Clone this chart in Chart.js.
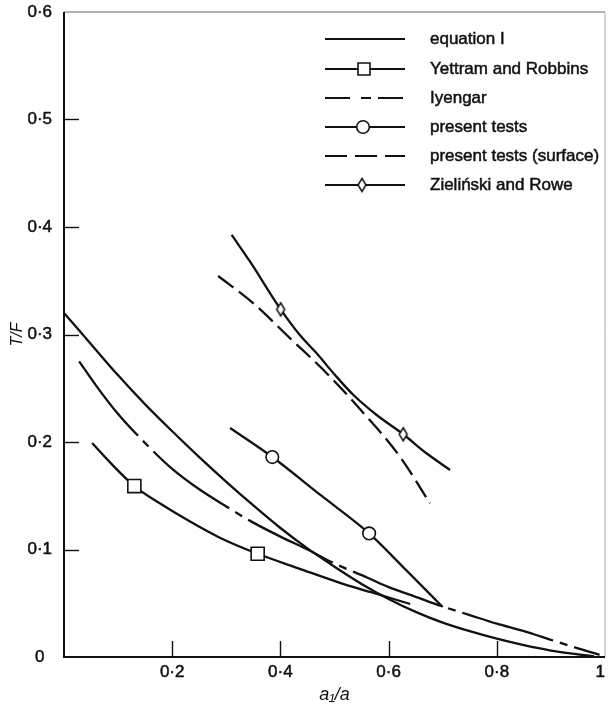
<!DOCTYPE html>
<html>
<head>
<meta charset="utf-8">
<script src="https://cdn.jsdelivr.net/npm/chart.js@4/dist/chart.umd.min.js"></script>
<style>
  html, body { margin: 0; padding: 0; background: #fff; }
  #wrap { position: relative; width: 609px; height: 706px; }
</style>
</head>
<body>
<div id="wrap"><canvas id="c" width="609" height="706"></canvas></div>
<script>
// ---------- data ----------
const yTicks = [0, 0.1, 0.2, 0.3, 0.4, 0.5, 0.6];
const yTickLabels = ['0', '0·1', '0·2', '0·3', '0·4', '0·5', '0·6'];
const xTicks = [0, 0.2, 0.4, 0.6, 0.8, 1];
const xTickLabels = ['', '0·2', '0·4', '0·6', '0·8', '1'];
const xTitle = 'a₁/a';
const yTitle = 'T/F';
const seriesNames = ['equation I', 'Yettram and Robbins', 'Iyengar', 'present tests', 'present tests (surface)', 'Zieliński and Rowe'];

// equation I (solid)
const eqX = [0, 0.05, 0.1, 0.15, 0.2, 0.25, 0.3, 0.35, 0.4, 0.45, 0.5, 0.55, 0.6, 0.65, 0.7, 0.75, 0.8, 0.85, 0.9, 0.95, 0.98];
const eqY = [0.320, 0.291, 0.262, 0.235, 0.210, 0.186, 0.163, 0.141, 0.120, 0.101, 0.084, 0.068, 0.054, 0.042, 0.032, 0.024, 0.017, 0.011, 0.006, 0.0025, 0.0005];

// Yettram and Robbins (solid + squares)
const yrX = [0.052, 0.085, 0.130, 0.177, 0.233, 0.288, 0.358, 0.436, 0.510, 0.566, 0.640];
const yrY = [0.199, 0.181, 0.159, 0.143, 0.126, 0.111, 0.096, 0.082, 0.069, 0.0605, 0.0493];
const yrMarkX = [0.130, 0.358];
const yrMarkY = [0.159, 0.096];

// Iyengar (dash-dot)
const iyX = [0.028, 0.06, 0.1, 0.15, 0.2, 0.25, 0.3, 0.35, 0.4, 0.45, 0.5, 0.56, 0.6, 0.65, 0.7, 0.75, 0.8, 0.85, 0.9, 0.95, 0.99];
const iyY = [0.275, 0.252, 0.226, 0.199, 0.175, 0.156, 0.140, 0.125, 0.112, 0.100, 0.087, 0.074, 0.065, 0.056, 0.047, 0.039, 0.031, 0.024, 0.016, 0.008, 0.002];

// present tests (solid + circles)
const ptX = [0.307, 0.385, 0.4745, 0.564, 0.632, 0.700];
const ptY = [0.213, 0.186, 0.1505, 0.115, 0.081, 0.0465];
const ptMarkX = [0.385, 0.564];
const ptMarkY = [0.186, 0.115];

// present tests (surface) (dashed)
const psX = [0.285, 0.350, 0.418, 0.4855, 0.553, 0.621, 0.6765];
const psY = [0.3544, 0.329, 0.2964, 0.264, 0.2273, 0.1863, 0.143];

// Zielinski and Rowe (solid + diamonds)
const zrX = [0.310, 0.344, 0.4005, 0.436, 0.467, 0.501, 0.535, 0.578, 0.627, 0.670, 0.7135];
const zrY = [0.3926, 0.3677, 0.3234, 0.2995, 0.2825, 0.2623, 0.2437, 0.2251, 0.2072, 0.1895, 0.174];
const zrMarkX = [0.4005, 0.627];
const zrMarkY = [0.3234, 0.2072];

// ---------- styling ----------
const INK = '#111';
const FONT = '"Liberation Sans", Arial, Helvetica, sans-serif';
const DASH_DOT = [95, 7, 8, 7];
const DASH = [19, 7];
const PLOT_RIGHT = 605;

function diamondCanvas(w, h, lw) {
  const c = document.createElement('canvas');
  c.width = w + 4; c.height = h + 4;
  const g = c.getContext('2d');
  const cx = c.width / 2, cy = c.height / 2;
  g.beginPath();
  g.moveTo(cx, cy - h / 2); g.lineTo(cx + w / 2, cy);
  g.lineTo(cx, cy + h / 2); g.lineTo(cx - w / 2, cy);
  g.closePath();
  g.fillStyle = '#fff'; g.fill();
  g.lineWidth = lw; g.strokeStyle = INK; g.stroke();
  return c;
}
const diamond = diamondCanvas(8, 13, 1.5);

const pts = (xs, ys) => xs.map((x, i) => ({ x: x, y: ys[i] }));
const lineBase = {
  borderColor: INK, borderWidth: 2.3, pointRadius: 0, pointHoverRadius: 0,
  fill: false, cubicInterpolationMode: 'monotone', order: 2
};
const markBase = {
  showLine: false, pointBackgroundColor: '#fff', pointBorderColor: INK,
  pointBorderWidth: 1.6, order: 1
};

const fixRight = {
  id: 'fixRight',
  afterLayout(chart) {
    const x = chart.scales.x;
    chart.chartArea.right = PLOT_RIGHT;
    chart.chartArea.width = PLOT_RIGHT - chart.chartArea.left;
    x.right = PLOT_RIGHT;
    x.width = PLOT_RIGHT - x.left;
    x.configure();
  }
};

const frameTicks = {
  id: 'frameTicks',
  beforeDatasetsDraw(chart) {
    const { ctx, chartArea: a, scales: { x, y } } = chart;
    ctx.save();
    ctx.lineCap = 'butt';
    ctx.strokeStyle = '#666'; ctx.lineWidth = 1.2;
    ctx.beginPath();
    ctx.moveTo(a.left, a.top); ctx.lineTo(a.right, a.top);
    ctx.stroke();
    ctx.strokeStyle = '#aaa'; ctx.lineWidth = 1;
    ctx.beginPath();
    ctx.moveTo(a.right, a.top); ctx.lineTo(a.right, a.bottom);
    ctx.stroke();
    ctx.strokeStyle = INK; ctx.lineWidth = 2;
    ctx.beginPath();
    ctx.moveTo(a.left, a.top); ctx.lineTo(a.left, a.bottom); ctx.lineTo(a.right, a.bottom);
    ctx.stroke();
    ctx.lineWidth = 1.4;
    yTicks.forEach(v => {
      if (v <= y.min || v >= y.max) return;
      const py = Math.round(y.getPixelForValue(v)) + 0.5;
      ctx.beginPath(); ctx.moveTo(a.left, py); ctx.lineTo(a.left + 15, py); ctx.stroke();
    });
    xTicks.forEach(v => {
      if (v <= x.min || v >= x.max) return;
      const px = Math.round(x.getPixelForValue(v)) + 0.5;
      ctx.beginPath(); ctx.moveTo(px, a.bottom); ctx.lineTo(px, a.bottom - 16); ctx.stroke();
    });
    ctx.restore();
  }
};

const paperLegend = {
  id: 'paperLegend',
  afterDraw(chart) {
    const ctx = chart.ctx;
    const x0 = 325, x1 = 405, tx = 430, mx = 364;
    const rows = [39, 69, 98, 127, 156, 185];
    const dashes = [[], [], [25, 11, 10, 7], [], [22, 8], []];
    ctx.save();
    ctx.strokeStyle = INK; ctx.lineWidth = 2.2;
    rows.forEach((ry, i) => {
      ctx.setLineDash(dashes[i]);
      ctx.beginPath(); ctx.moveTo(x0, ry); ctx.lineTo(x1, ry); ctx.stroke();
    });
    ctx.setLineDash([]);
    ctx.lineWidth = 1.6; ctx.fillStyle = '#fff';
    ctx.beginPath(); ctx.rect(mx - 6, rows[1] - 6, 12, 12); ctx.fill(); ctx.stroke();
    ctx.beginPath(); ctx.arc(mx - 1, rows[3], 6.3, 0, Math.PI * 2); ctx.fill(); ctx.stroke();
    ctx.drawImage(diamond, mx - 2 - diamond.width / 2, rows[5] - diamond.height / 2);
    ctx.fillStyle = INK; ctx.strokeStyle = INK; ctx.lineWidth = 0.5;
    ctx.font = '17px ' + FONT;
    ctx.textAlign = 'left'; ctx.textBaseline = 'middle';
    rows.forEach((ry, i) => { ctx.fillText(seriesNames[i], tx, ry); ctx.strokeText(seriesNames[i], tx, ry); });
    ctx.restore();
  }
};

const noPad = s => { s.paddingTop = 0; s.paddingBottom = 0; s.paddingLeft = 0; s.paddingRight = 0; };

new Chart(document.getElementById('c'), {
  type: 'line',
  data: {
    datasets: [
      { label: seriesNames[1] + ' markers', data: pts(yrMarkX, yrMarkY), ...markBase, pointStyle: 'rect', pointRadius: 9.2 },
      { label: seriesNames[3] + ' markers', data: pts(ptMarkX, ptMarkY), ...markBase, pointStyle: 'circle', pointRadius: 6.3 },
      { label: seriesNames[5] + ' markers', data: pts(zrMarkX, zrMarkY), ...markBase, pointStyle: diamond, pointRadius: 6 },
      { label: seriesNames[0], data: pts(eqX, eqY), ...lineBase },
      { label: seriesNames[1], data: pts(yrX, yrY), ...lineBase },
      { label: seriesNames[2], data: pts(iyX, iyY), ...lineBase, borderDash: DASH_DOT },
      { label: seriesNames[3], data: pts(ptX, ptY), ...lineBase },
      { label: seriesNames[4], data: pts(psX, psY), ...lineBase, borderDash: DASH },
      { label: seriesNames[5], data: pts(zrX, zrY), ...lineBase }
    ]
  },
  options: {
    responsive: false,
    animation: false,
    devicePixelRatio: 1,
    layout: { padding: { top: 12, right: 4, bottom: 0, left: 0 } },
    plugins: { legend: { display: false }, tooltip: { enabled: false } },
    scales: {
      x: {
        type: 'linear', min: 0, max: 1,
        grid: { display: false, drawTicks: false },
        border: { display: false },
        afterBuildTicks: s => { s.ticks = xTicks.map(v => ({ value: v })); },
        afterFit: s => { s.height = 49; noPad(s); },
        ticks: {
          color: INK, padding: 5, maxRotation: 0, autoSkip: false, align: 'inner',
          textStrokeColor: INK, textStrokeWidth: 0.5,
          font: { family: FONT, size: 17 },
          callback: v => { const i = xTicks.findIndex(t => Math.abs(t - v) < 1e-6); return i >= 0 ? xTickLabels[i] : ''; }
        },
        title: {
          display: true, text: xTitle, color: INK,
          font: { family: FONT, size: 18, style: 'italic' },
          padding: { top: 0, bottom: 0 }
        }
      },
      y: {
        type: 'linear', min: 0, max: 0.6,
        grid: { display: false, drawTicks: false },
        border: { display: false },
        afterBuildTicks: s => { s.ticks = yTicks.map(v => ({ value: v })); },
        afterFit: s => { s.width = 64; noPad(s); },
        ticks: {
          color: INK, padding: 12, crossAlign: 'center', autoSkip: false,
          textStrokeColor: INK, textStrokeWidth: 0.5,
          font: { family: FONT, size: 17 },
          callback: v => { const i = yTicks.findIndex(t => Math.abs(t - v) < 1e-6); return i >= 0 ? yTickLabels[i] : ''; }
        },
        title: {
          display: true, text: yTitle, color: INK,
          font: { family: FONT, size: 16, style: 'italic' },
          padding: { top: 8, bottom: 0 }
        }
      }
    }
  },
  plugins: [fixRight, frameTicks, paperLegend]
});
</script>
</body>
</html>
